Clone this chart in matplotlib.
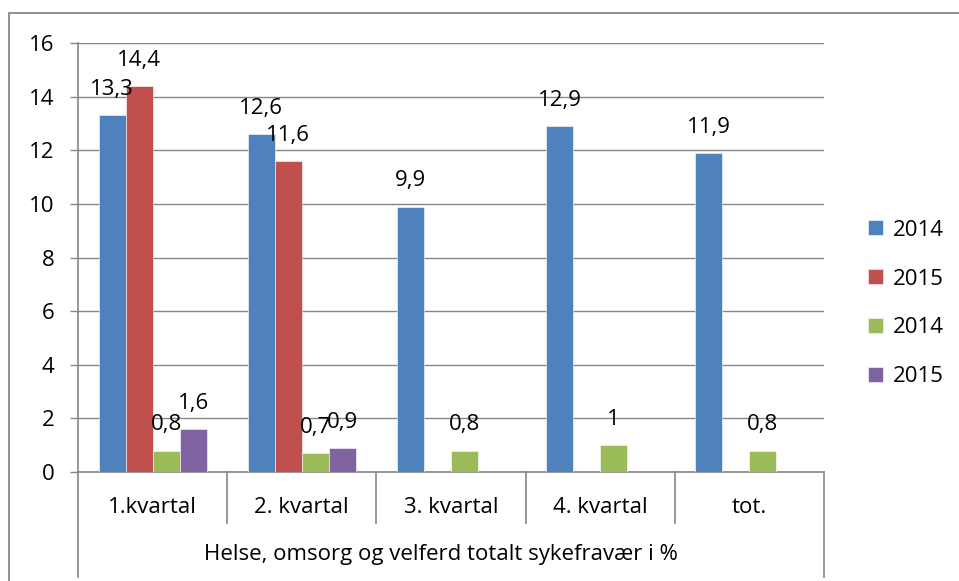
import numpy as np
import matplotlib
matplotlib.use("Agg")
import matplotlib.pyplot as plt
from matplotlib.patches import Rectangle

plt.rcParams['font.family'] = ['Open Sans', 'DejaVu Sans']

# data
categories = ['1.kvartal', '2. kvartal', '3. kvartal', '4. kvartal', 'tot.']
series_names = ['2014', '2015', '2014', '2015']
blue_2014 = [13.3, 12.6, 9.9, 12.9, 11.9]
red_2015 = [14.4, 11.6, np.nan, np.nan, np.nan]
green_2014 = [0.8, 0.7, 0.8, 1.0, 0.8]
purple_2015 = [1.6, 0.9, np.nan, np.nan, np.nan]
group_label = 'Helse, omsorg og velferd totalt sykefravær i %'
yticks = [0, 2, 4, 6, 8, 10, 12, 14, 16]

colors = ['#4F81BD', '#C0504D', '#9BBB59', '#8064A2']
grid_c = '#868686'
fs = 16

W, H = 959, 581
fig = plt.figure(figsize=(W / 100, H / 100), dpi=100)
ax = fig.add_axes([78 / W, 1 - 472 / H, (824 - 78) / W, (472 - 43) / H])

# outer chart border (cut off at right/bottom like the reference)
fig.patches.append(Rectangle((9 / W, -0.2), 1.2, 1 - 13 / H + 0.2,
                             transform=fig.transFigure, fill=False,
                             edgecolor=grid_c, lw=1.3))

x = np.arange(len(categories)) + 0.5
bw = 0.181
all_series = [blue_2014, red_2015, green_2014, purple_2015]
for i, (vals, name, c) in enumerate(zip(all_series, series_names, colors)):
    pos = x + (i - 1.5) * bw
    vals = np.array(vals, dtype=float)
    ax.bar(pos, np.nan_to_num(vals), width=bw, color=c, label=name,
           edgecolor='white', linewidth=0.4, zorder=3)
    for px, v in zip(pos, vals):
        if np.isnan(v):
            continue
        ax.annotate(f"{v:g}".replace('.', ','), (px, v), xytext=(0, 18.5),
                    textcoords='offset points', ha='center', va='center',
                    fontsize=fs, zorder=4)

ax.set_xlim(0, len(categories))
ax.set_ylim(0, 16)
ax.set_yticks(yticks)
ax.set_yticklabels([str(t) for t in yticks], fontsize=fs)
ax.tick_params(axis='y', length=6, width=1, color=grid_c, pad=11)
ax.set_xticks([])
ax.yaxis.grid(True, color=grid_c, lw=1.0, zorder=0)
ax.set_axisbelow(True)
for s in ['top', 'right']:
    ax.spines[s].set_visible(False)
for s in ['left', 'bottom']:
    ax.spines[s].set_color(grid_c)
    ax.spines[s].set_linewidth(1.2)

# category axis boxes
tr = ax.get_xaxis_transform()
for b in range(1, len(categories)):
    ax.plot([b, b], [0, -0.119], transform=tr, color=grid_c, lw=1.2, clip_on=False)
for b in [0, len(categories)]:
    ax.plot([b, b], [0, -0.245], transform=tr, color=grid_c, lw=1.2, clip_on=False)
for xc, lab in zip(x, categories):
    ax.text(xc, -0.082, lab, transform=tr, ha='center', va='center', fontsize=fs)
ax.text(len(categories) / 2 - 0.07, -0.193, group_label, transform=tr,
        ha='center', va='center', fontsize=fs)

ax.legend(loc='center left', bbox_to_anchor=(1.047, 0.393), frameon=False,
          fontsize=fs, handlelength=0.66, handleheight=0.66,
          handletextpad=0.45, labelspacing=1.25, borderaxespad=0)

fig.savefig('out.png', dpi=100, facecolor='white')
